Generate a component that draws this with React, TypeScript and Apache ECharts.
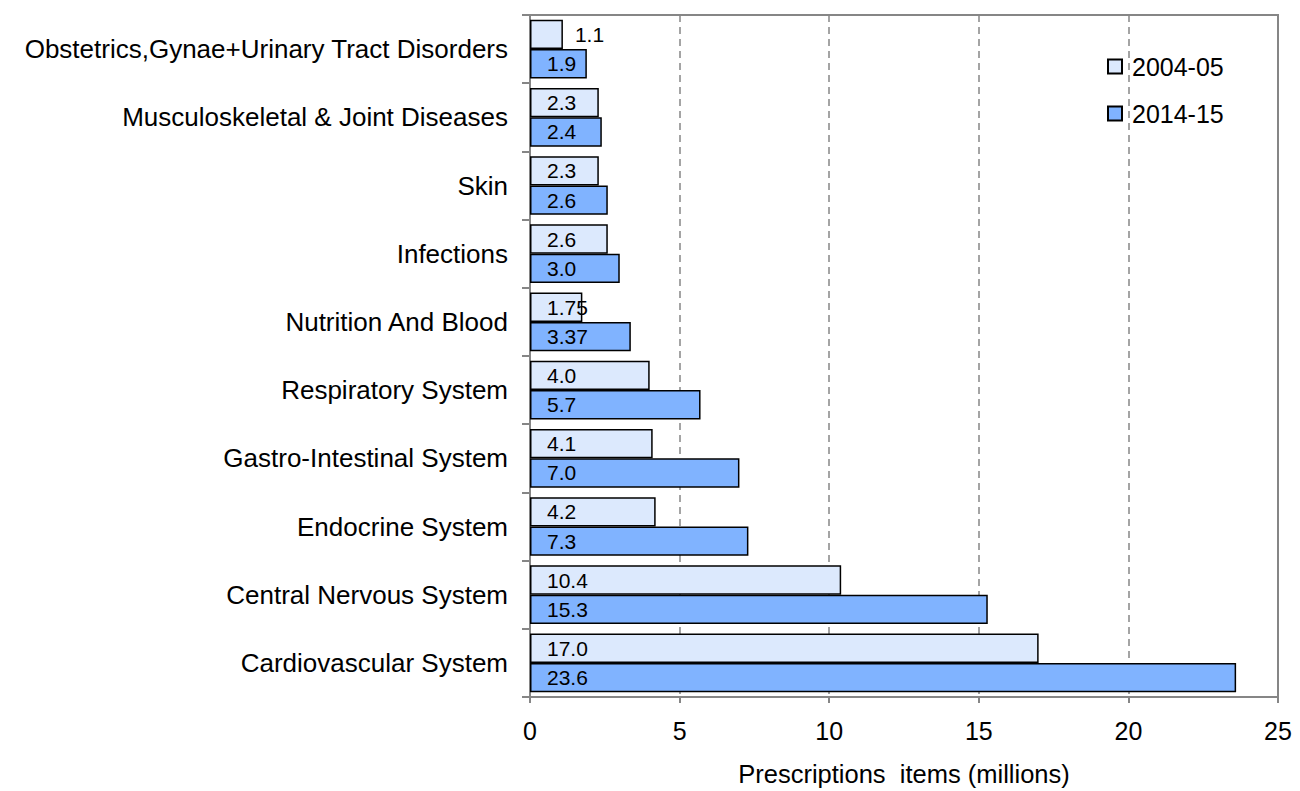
import React, { useEffect, useRef } from "react";
import * as echarts from "echarts";

const categories = [
  "Cardiovascular System",
  "Central Nervous System",
  "Endocrine System",
  "Gastro-Intestinal System",
  "Respiratory System",
  "Nutrition And Blood",
  "Infections",
  "Skin",
  "Musculoskeletal & Joint Diseases",
  "Obstetrics,Gynae+Urinary Tract Disorders",
];
const values2004 = [17.0, 10.4, 4.2, 4.1, 4.0, 1.75, 2.6, 2.3, 2.3, 1.1];
const values2014 = [23.6, 15.3, 7.3, 7.0, 5.7, 3.37, 3.0, 2.6, 2.4, 1.9];
const seriesNames = ["2004-05", "2014-15"];
const xTicks = { min: 0, max: 25, interval: 5 };
const axisTitle = "Prescriptions  items (millions)";

const FONT = "'Liberation Sans', Arial, sans-serif";
const GRAY = "#868686";

const fmt = (v: number) =>
  Math.abs(Math.round(v * 10) - v * 10) < 1e-9 ? v.toFixed(1) : v.toFixed(2);

export default function App() {
  const ref = useRef<HTMLDivElement>(null);
  useEffect(() => {
    if (!ref.current) return;
    const chart = echarts.init(ref.current, null, { renderer: "svg" });
    const labelBase = {
      show: true,
      position: "insideLeft" as const,
      distance: 17,
      color: "#000",
      fontSize: 21,
      fontFamily: FONT,
      formatter: (p: any) => fmt(p.value),
    };
    chart.setOption({
      animation: false,
      textStyle: { fontFamily: FONT },
      grid: {
        left: 530,
        right: 22,
        top: 15,
        bottom: 94,
        outerBoundsMode: "none",
        containLabel: false,
        show: true,
        borderColor: GRAY,
        borderWidth: 2,
      },
      legend: {
        data: seriesNames,
        orient: "vertical",
        left: 1102,
        top: 49,
        icon: "rect",
        itemWidth: 14,
        itemHeight: 14,
        itemGap: 22,
        textStyle: {
          fontSize: 25,
          color: "#000",
          fontFamily: FONT,
          padding: [0, 0, 0, 5],
        },
      },
      xAxis: {
        type: "value",
        min: xTicks.min,
        max: xTicks.max,
        interval: xTicks.interval,
        name: axisTitle,
        nameLocation: "middle",
        nameGap: 64,
        nameTextStyle: { fontSize: 25.5, color: "#000", fontFamily: FONT },
        axisLine: { show: true, lineStyle: { color: GRAY, width: 2 } },
        axisTick: { show: true, length: 6, lineStyle: { color: GRAY, width: 2 } },
        axisLabel: { fontSize: 25, color: "#000", margin: 21, fontFamily: FONT },
        splitLine: {
          show: true,
          lineStyle: { color: GRAY, width: 1.5, type: [7, 5] },
        },
      },
      yAxis: {
        type: "category",
        data: categories,
        axisLine: { show: true, lineStyle: { color: GRAY, width: 2 } },
        axisTick: { show: true, inside: false, length: 8, lineStyle: { color: GRAY, width: 2 } },
        axisLabel: { fontSize: 26, color: "#000", margin: 22, fontFamily: FONT },
      },
      series: [
        {
          name: seriesNames[0],
          type: "bar",
          barGap: "0%",
          barCategoryGap: "14%",
          itemStyle: { color: "#dce9fd", borderColor: "#000", borderWidth: 1.5 },
          label: labelBase,
          data: values2004.map((v, i) =>
            i === values2004.length - 1
              ? { value: v, label: { position: "right", distance: 12 } }
              : v
          ),
        },
        {
          name: seriesNames[1],
          type: "bar",
          barGap: "0%",
          barCategoryGap: "14%",
          itemStyle: { color: "#80b3ff", borderColor: "#000", borderWidth: 1.5 },
          label: labelBase,
          data: values2014,
        },
      ],
    });
    return () => chart.dispose();
  }, []);
  return (
    <div
      ref={ref}
      style={{ position: "fixed", left: 0, top: 0, width: 1300, height: 791, background: "#fff" }}
    />
  );
}
